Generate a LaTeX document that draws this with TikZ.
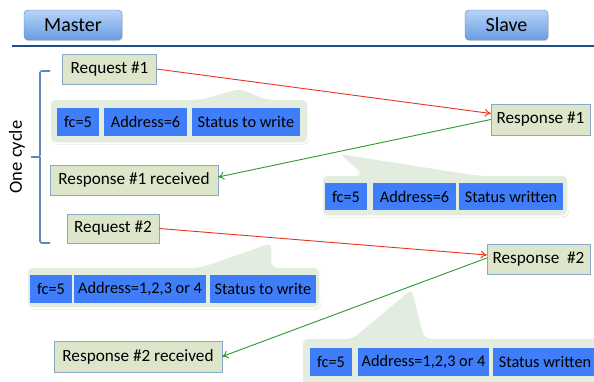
\documentclass[tikz,border=0pt]{standalone}
\usepackage{fontspec}
\setmainfont{Carlito}
\usetikzlibrary{arrows.meta,shadows}
\definecolor{msgfill}{HTML}{DDE6CA}
\definecolor{msgline}{HTML}{8AA8C8}
\definecolor{cellblue}{HTML}{3F7EF8}
\definecolor{bubfill}{HTML}{E2EDE0}
\definecolor{btntop}{HTML}{B6D3F8}
\definecolor{btnbot}{HTML}{6A9DE2}
\definecolor{btnline}{HTML}{5A86C0}
\definecolor{reqred}{HTML}{E8341E}
\definecolor{respgreen}{HTML}{2A9A2A}
\definecolor{bracecol}{HTML}{5B87BE}
\definecolor{rulecol}{HTML}{1F4E8C}
\begin{document}
\begin{tikzpicture}[
        x=1pt, y=-1pt, % координаты в пикселях
        btn/.style={rounded corners=4pt, draw=btnline, top color=btntop, bottom color=btnbot,
            minimum height=30pt, font=\fontsize{20}{24}\selectfont,
            drop shadow={opacity=0.3, shadow xshift=0.8pt, shadow yshift=-1.2pt}},
        msg/.style={draw=msgline, fill=msgfill, minimum height=30pt, inner sep=0pt,
            font=\fontsize{17.2}{20}\selectfont}, % зеленые блоки
        cell/.style={fill=cellblue, minimum height=28pt, inner sep=0pt,
            font=\fontsize{16.3}{19}\selectfont}, % синие ячейки
        bubble/.style={fill=bubfill, draw=white, line width=1.5pt, rounded corners=6pt,
            drop shadow={opacity=0.2, shadow xshift=1pt, shadow yshift=-1.5pt}},
        req/.style={draw=reqred, line width=0.9pt, -{To[length=6pt,width=8pt]}},
        resp/.style={draw=respgreen, line width=0.9pt, -{To[length=6pt,width=8pt]}},
    ]
    \useasboundingbox (0,0) rectangle (594,381);

    % заголовок
    \node[btn, minimum width=98pt] (master) at (73,25) {Master};
    \node[btn, minimum width=83pt] (slave) at (506.5,25) {Slave};
    \coordinate (ruleA) at (12,46);
    \coordinate (ruleB) at (594,46);
    \draw[rulecol, line width=1.6pt] (ruleA) -- (ruleB);

    % выноски
    \path[bubble] (50,99) -- (200,99) -- (240,88) -- (267,99) -- (308,99) -- (308,143) -- (50,143) -- cycle;
    \path[bubble] (322,175) -- (362,175) -- (338,153) -- (478,175) -- (568,175) -- (568,216) -- (322,216) -- cycle;
    \path[bubble] (27,267) -- (200,267) -- (272,242) -- (272,267) -- (320,267) -- (320,308) -- (27,308) -- cycle;
    \path[bubble] (302,338) -- (352,338) -- (412,288) -- (425,338) -- (604,338) -- (604,392) -- (302,392) -- cycle;

    % ячейки
    \node[cell, minimum width=42pt] (fcA) at (78,122) {fc=5};
    \node[cell, minimum width=83pt] (adrA) at (145.5,122) {Address=6};
    \node[cell, minimum width=108pt] (stA) at (246,122) {Status to write};
    \node[cell, minimum width=42pt, minimum height=27pt] (fcB) at (346,196.5) {fc=5};
    \node[cell, minimum width=83pt, minimum height=27pt] (adrB) at (414.5,196.5) {Address=6};
    \node[cell, minimum width=104pt, minimum height=27pt] (stB) at (511,196.5) {Status written};
    \node[cell, minimum width=42pt] (fcC) at (51,289) {fc=5};
    \node[cell, minimum width=132pt] (adrC) at (140,289) {Address=1,2,3 or 4};
    \node[cell, minimum width=106pt] (stC) at (263,289) {Status to write};
    \node[cell, minimum width=42pt] (fcD) at (331,362) {fc=5};
    \node[cell, minimum width=131pt] (adrD) at (423.5,362) {Address=1,2,3 or 4};
    \node[cell, minimum width=104pt] (stD) at (545,362) {Status written};

    % сообщения
    \node[msg, minimum width=94pt] (req1) at (109.5,69) {Request \#1};
    \node[msg, minimum width=99pt, minimum height=31pt] (resp1) at (540.5,119.5) {Response \#1};
    \node[msg, minimum width=168pt] (rec1) at (134,180) {Response \#1 received};
    \node[msg, minimum width=92pt, minimum height=29pt] (req2) at (113,228.5) {Request \#2};
    \node[msg, minimum width=103pt] (resp2) at (538.5,259) {Response\ \ \#2};
    \node[msg, minimum width=168pt, minimum height=31pt] (rec2) at (138,356.5) {Response \#2 received};

    \draw[req] (req1.east) -- ([yshift=6pt]resp1.west);
    \draw[resp] (resp1.west) -- ([yshift=3pt]rec1.east);
    \draw[req] (req2.east) -- ([yshift=4pt]resp2.west);
    \draw[resp] ([yshift=1pt]resp2.west) -- (rec2.east);

    % скобка
    \coordinate (brTop) at (50,71);
    \coordinate (brTip) at (31,157);
    \coordinate (brBot) at (50,243);
    \draw[bracecol, line width=1.6pt, rounded corners=2pt]
        (brTop) -- (40,71) -- (40,157) -- (brTip) (40,157) -- (40,243) -- (brBot);
    \node[rotate=90, font=\fontsize{18.5}{22}\selectfont] (cycle) at (17,157) {One cycle};

\end{tikzpicture}
\end{document}
